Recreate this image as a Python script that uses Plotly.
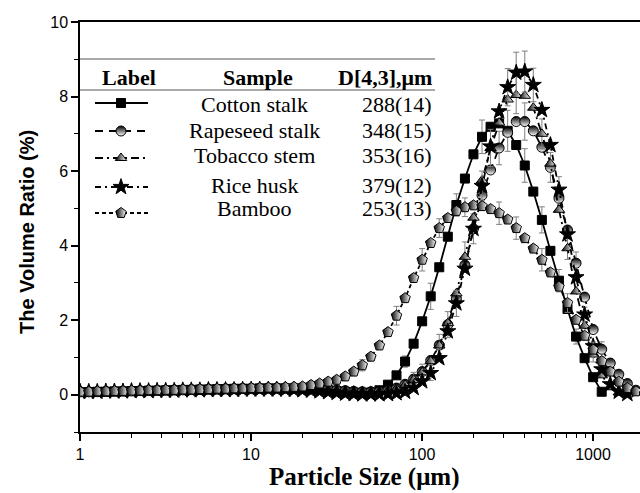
import plotly.graph_objects as go

# ---------------- data ----------------
size_um = [1.002, 1.125, 1.262, 1.416, 1.589, 1.783, 2.000, 2.244, 2.518, 2.825,
           3.170, 3.557, 3.991, 4.477, 5.024, 5.637, 6.325, 7.096, 7.962, 8.934,
           10.024, 11.247, 12.619, 14.159, 15.887, 17.825, 20.000, 22.440, 25.179, 28.251,
           31.698, 35.566, 39.905, 44.774, 50.238, 56.368, 63.246, 70.963, 79.621, 89.337,
           100.237, 112.468, 126.191, 141.589, 158.866, 178.250, 200.000, 224.404, 251.785, 282.508,
           316.979, 355.656, 399.052, 447.744, 502.377, 563.677, 632.456, 709.627, 796.214, 893.367,
           1002.374, 1124.683, 1261.915, 1415.892, 1588.656, 1782.502, 2000.000]

cotton = [0.07, 0.07, 0.08, 0.08, 0.09, 0.09, 0.10, 0.10, 0.11, 0.11,
          0.12, 0.12, 0.13, 0.13, 0.14, 0.14, 0.15, 0.15, 0.16, 0.16,
          0.16, 0.17, 0.17, 0.17, 0.17, 0.17, 0.16, 0.15, 0.14, 0.12,
          0.10, 0.08, 0.06, 0.05, 0.06, 0.12, 0.27, 0.52, 0.89, 1.37,
          1.97, 2.64, 3.42, 4.24, 5.09, 5.80, 6.45, 6.92, 7.19, 7.28,
          7.08, 6.70, 6.15, 5.45, 4.69, 3.86, 3.06, 2.30, 1.56, 0.98,
          0.47, 0.08, None, None, None, None, None]

rapeseed = [0.08, 0.08, 0.08, 0.09, 0.09, 0.10, 0.10, 0.11, 0.11, 0.12,
            0.12, 0.13, 0.13, 0.14, 0.14, 0.15, 0.15, 0.16, 0.16, 0.17,
            0.17, 0.17, 0.18, 0.18, 0.18, 0.18, 0.18, 0.17, 0.16, 0.15,
            0.13, 0.11, 0.09, 0.08, 0.08, 0.09, 0.12, 0.18, 0.28, 0.42,
            0.62, 0.92, 1.33, 1.88, 2.58, 3.48, 4.45, 5.35, 6.03, 6.62,
            7.04, 7.33, 7.33, 7.08, 6.64, 6.10, 5.27, 4.42, 3.53, 2.62,
            1.75, 1.22, 0.85, 0.55, 0.30, 0.12, 0.04]

tobacco = [0.09, 0.09, 0.09, 0.10, 0.10, 0.10, 0.11, 0.11, 0.12, 0.12,
           0.12, 0.13, 0.13, 0.14, 0.14, 0.15, 0.15, 0.15, 0.16, 0.16,
           0.16, 0.17, 0.17, 0.17, 0.17, 0.17, 0.16, 0.15, 0.14, 0.12,
           0.10, 0.08, 0.07, 0.06, 0.06, 0.07, 0.10, 0.16, 0.26, 0.40,
           0.60, 0.90, 1.32, 1.92, 2.72, 3.70, 4.75, 5.75, 6.62, 7.30,
           7.92, 8.04, 8.02, 7.70, 7.00, 6.20, 4.96, 3.93, 2.77, 1.85,
           1.08, 0.52, 0.20, 0.06, 0.01, None, None]

rice = [0.08, 0.08, 0.08, 0.09, 0.09, 0.09, 0.10, 0.10, 0.10, 0.11,
        0.11, 0.11, 0.12, 0.12, 0.12, 0.13, 0.13, 0.13, 0.13, 0.14,
        0.14, 0.14, 0.14, 0.14, 0.14, 0.13, 0.12, 0.11, 0.09, 0.07,
        0.05, 0.03, 0.02, 0.01, 0.01, 0.01, 0.02, 0.04, 0.08, 0.18,
        0.36, 0.58, 0.98, 1.70, 2.45, 3.38, 4.45, 5.60, 6.66, 7.60,
        8.25, 8.64, 8.67, 8.31, 7.64, 6.70, 5.50, 4.30, 3.15, 2.15,
        1.30, 0.68, 0.28, 0.08, 0.02, None, None]

bamboo = [0.08, 0.08, 0.09, 0.09, 0.10, 0.10, 0.11, 0.11, 0.12, 0.12,
          0.13, 0.13, 0.14, 0.14, 0.15, 0.15, 0.16, 0.16, 0.17, 0.17,
          0.18, 0.18, 0.19, 0.19, 0.20, 0.21, 0.22, 0.26, 0.30, 0.35,
          0.40, 0.49, 0.62, 0.79, 1.02, 1.32, 1.68, 2.12, 2.59, 3.13,
          3.62, 4.07, 4.47, 4.74, 4.93, 5.03, 5.08, 5.06, 4.98, 4.87,
          4.70, 4.47, 4.20, 3.92, 3.62, 3.28, 2.90, 2.46, 2.01, 1.58,
          1.21, 0.90, 0.62, 0.35, 0.18, 0.09, 0.03]

# standard deviations (error bars), index -> value
cotton_err = {38: 0.15, 41: 0.35, 44: 0.3, 47: 0.45, 50: 0.55, 52: 0.45, 54: 0.35, 56: 0.3, 58: 0.2}
rapeseed_err = {40: 0.2, 43: 0.35, 46: 0.4, 49: 0.45, 52: 0.5, 55: 0.4, 58: 0.3, 61: 0.2}
tobacco_err = {39: 0.2, 42: 0.3, 45: 0.4, 48: 0.5, 51: 0.5, 54: 0.4, 57: 0.3, 60: 0.2}
rice_err = {41: 0.2, 44: 0.35, 47: 0.4, 50: 0.5, 51: 0.55, 52: 0.55, 53: 0.45, 56: 0.35, 59: 0.2}
bamboo_err = {33: 0.15, 37: 0.25, 40: 0.3, 42: 0.25, 45: 0.25, 49: 0.3, 51: 0.3, 54: 0.3, 57: 0.25, 60: 0.2}

sample_names = ["Cotton stalk", "Rapeseed stalk", "Tobacco stem", "Rice husk", "Bamboo"]
d43_labels = ["288(14)", "348(15)", "353(16)", "379(12)", "253(13)"]
x_tick_vals = [1, 10, 100, 1000]
x_tick_text = ["1", "10", "100", "1000"]
y_tick_vals = [0, 2, 4, 6, 8, 10]

# ---------------- styles ----------------
series = [
    (cotton, cotton_err, dict(symbol="square", size=9, color="black",
                              line=dict(color="black", width=1)), "solid"),
    (rapeseed, rapeseed_err, dict(symbol="circle", size=10, color="black",
                                  gradient=dict(type="vertical", color="white"),
                                  line=dict(color="black", width=1)), "8px,6px"),
    (tobacco, tobacco_err, dict(symbol="triangle-up", size=10, color="black",
                                gradient=dict(type="horizontal", color="white"),
                                line=dict(color="black", width=1)), "8px,4px,2px,4px"),
    (rice, rice_err, dict(symbol="star", size=12, color="black",
                          line=dict(color="black", width=1)), "6px,4px,2px,4px"),
    (bamboo, bamboo_err, dict(symbol="pentagon", size=11, color="black",
                              gradient=dict(type="horizontal", color="white"),
                              line=dict(color="black", width=1)), "4px,3px"),
]

fig = go.Figure()

for vals, err, mk, dash in series:
    e = [err.get(i, 0) for i in range(len(vals))]
    fig.add_trace(go.Scatter(
        x=size_um, y=vals, mode="lines+markers",
        line=dict(color="black", width=1.8, dash=dash),
        marker=mk,
        error_y=dict(type="data", array=e, visible=True, color="#7f7f7f",
                     thickness=1, width=3),
        showlegend=False, cliponaxis=True,
    ))

# ---------------- legend table (overlay axes spanning the plot area) ----------------
PX_L, PX_R, PY_T, PY_B = 80, 640, 22, 432


def px2x(px):
    return (px - PX_L) / (PX_R - PX_L)


def py2y(py):
    return (PY_B - py) / (PY_B - PY_T)


sym_rows = [103, 131, 158, 187, 213]
txt_rows = [105, 130, 156, 185, 209]

for k, (vals, err, mk, dash) in enumerate(series):
    yy = py2y(sym_rows[k])
    fig.add_trace(go.Scatter(
        x=[px2x(95), px2x(148)], y=[yy, yy], mode="lines",
        line=dict(color="black", width=2, dash=dash),
        xaxis="x2", yaxis="y2", showlegend=False, hoverinfo="skip"))
    fig.add_trace(go.Scatter(
        x=[px2x(121)], y=[yy], mode="markers", marker=mk,
        xaxis="x2", yaxis="y2", showlegend=False, hoverinfo="skip"))

serif = "Liberation Serif, Times New Roman, serif"
sans = "Liberation Sans, Arial, sans-serif"
annotations = []
hdr_y = py2y(77)
annotations.append(dict(x=px2x(129), y=hdr_y, xref="paper", yref="paper", text="<b>Label</b>",
                        showarrow=False, xanchor="center", yanchor="middle",
                        font=dict(family=serif, size=22, color="black")))
annotations.append(dict(x=px2x(258), y=hdr_y, xref="paper", yref="paper", text="<b>Sample</b>",
                        showarrow=False, xanchor="center", yanchor="middle",
                        font=dict(family=serif, size=22, color="black")))
annotations.append(dict(x=px2x(434), y=hdr_y, xref="paper", yref="paper", text="<b>D[4,3],μm</b>",
                        showarrow=False, xanchor="right", yanchor="middle",
                        font=dict(family=serif, size=22, color="black")))
for k in range(5):
    yy = py2y(txt_rows[k])
    annotations.append(dict(x=px2x(254), y=yy, xref="paper", yref="paper", text=sample_names[k],
                            showarrow=False, xanchor="center", yanchor="middle",
                            font=dict(family=serif, size=22, color="black")))
    annotations.append(dict(x=px2x(434), y=yy, xref="paper", yref="paper", text=d43_labels[k],
                            showarrow=False, xanchor="right", yanchor="middle",
                            font=dict(family=serif, size=22, color="black")))

# axis titles
annotations.append(dict(x=px2x(364), y=py2y(477), xref="paper", yref="paper",
                        text="<b>Particle Size (μm)</b>", showarrow=False,
                        xanchor="center", yanchor="middle", borderpad=0,
                        font=dict(family=serif, size=25, color="black")))
annotations.append(dict(x=px2x(27), y=py2y(232), xref="paper", yref="paper",
                        text="<b>The Volume Ratio (%)</b>", showarrow=False, textangle=-90,
                        xanchor="center", yanchor="middle",
                        font=dict(family=sans, size=20, color="black")))

shapes = [
    dict(type="line", xref="paper", yref="paper", x0=0, x1=px2x(435), y0=py2y(59), y1=py2y(59),
         line=dict(color="#555555", width=1)),
    dict(type="line", xref="paper", yref="paper", x0=0, x1=px2x(435), y0=py2y(90), y1=py2y(90),
         line=dict(color="#555555", width=1)),
]

minor_x = [m * d for d in (1, 10, 100, 1000) for m in range(2, 10)]

fig.update_layout(
    width=640, height=493,
    margin=dict(l=PX_L, r=640 - PX_R, t=PY_T, b=493 - PY_B),
    paper_bgcolor="white", plot_bgcolor="white",
    annotations=annotations, shapes=shapes,
    xaxis=dict(type="log", range=[0, 3.275], tickvals=x_tick_vals, ticktext=x_tick_text,
               ticks="outside", ticklen=7, tickwidth=1.5, tickcolor="black",
               showline=True, linecolor="black", linewidth=1.5, mirror=True,
               showgrid=False, zeroline=False,
               tickfont=dict(family=sans, size=16, color="black"),
               minor=dict(tickvals=minor_x, ticks="outside", ticklen=4, tickwidth=1.2,
                          tickcolor="black", showgrid=False)),
    yaxis=dict(range=[-1, 10], tickvals=y_tick_vals,
               ticks="outside", ticklen=7, tickwidth=1.5, tickcolor="black",
               showline=True, linecolor="black", linewidth=1.5,
               showgrid=False, zeroline=False,
               tickfont=dict(family=sans, size=16, color="black"),
               minor=dict(dtick=1, tick0=0, ticks="outside", ticklen=4, tickwidth=1.2,
                          tickcolor="black", showgrid=False)),
    xaxis2=dict(domain=[0, 1], range=[0, 1], overlaying="x", visible=False, fixedrange=True),
    yaxis2=dict(domain=[0, 1], range=[0, 1], overlaying="y", visible=False, fixedrange=True),
)

fig.write_html("out.html")
